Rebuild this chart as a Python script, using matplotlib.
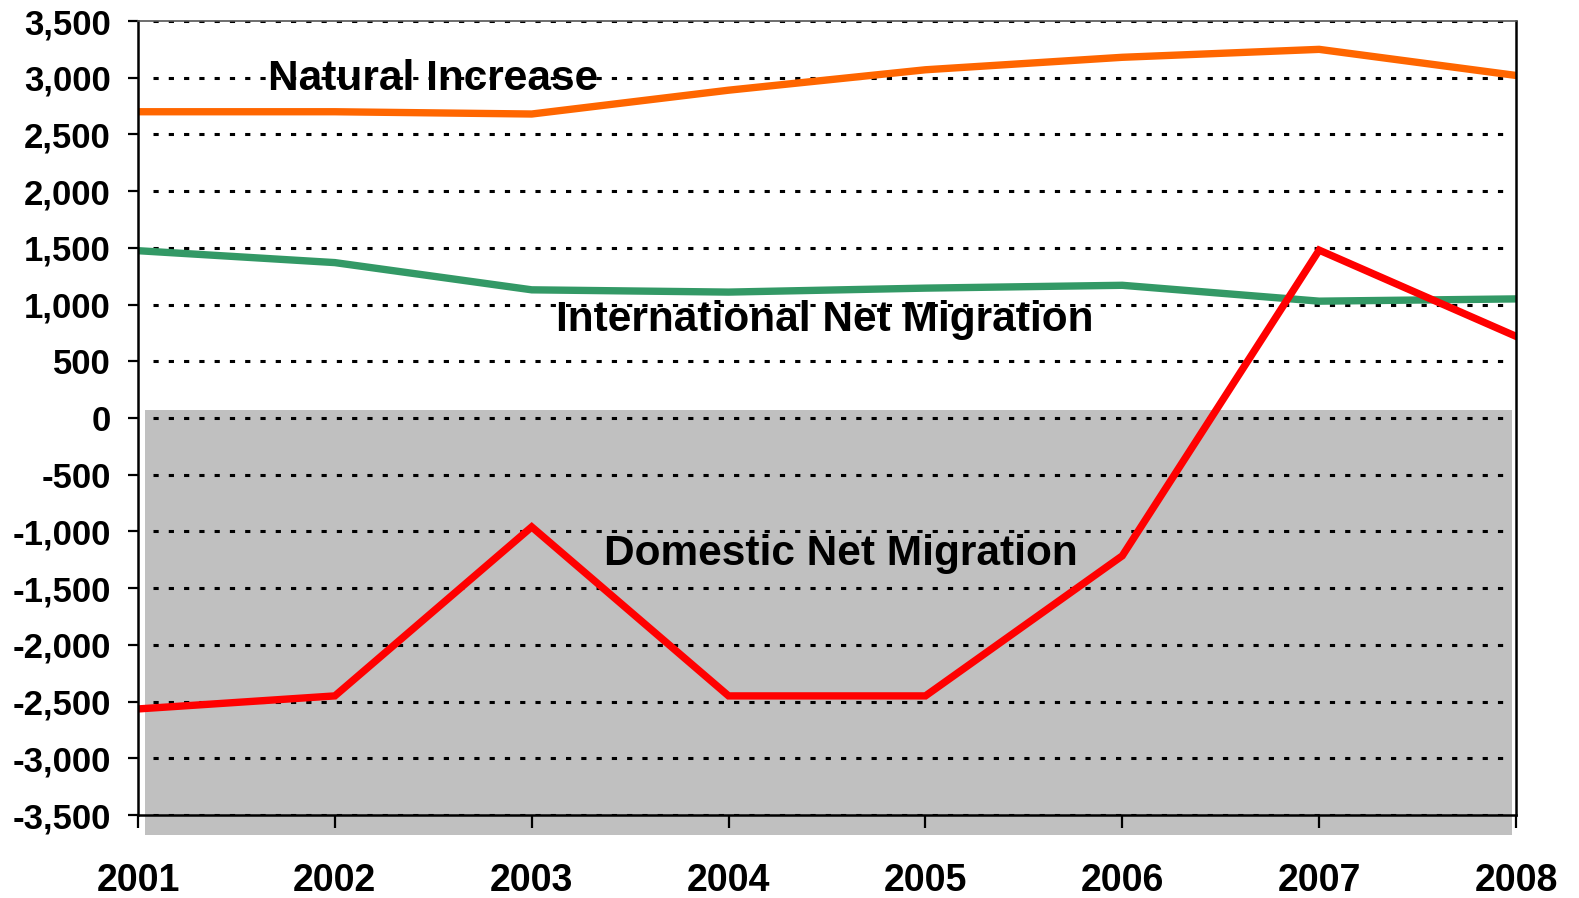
import matplotlib.pyplot as plt
from matplotlib.patches import Rectangle

years = [2001, 2002, 2003, 2004, 2005, 2006, 2007, 2008]
natural_increase = [2700, 2700, 2680, 2890, 3070, 3180, 3250, 3020]
international_net = [1475, 1370, 1130, 1110, 1145, 1170, 1030, 1050]
domestic_net = [-2565, -2450, -960, -2450, -2450, -1215, 1480, 720]
y_ticks = list(range(-3500, 3501, 500))

plt.rcParams['font.family'] = ['Liberation Sans', 'DejaVu Sans']
plt.rcParams['font.weight'] = 'bold'

fig = plt.figure(figsize=(15.79, 8.98), dpi=100)
ax = fig.add_axes([138 / 1579, 83 / 898, (1516 - 138) / 1579, (815 - 21) / 898])

ax.set_xlim(2001, 2008)
ax.set_ylim(-3500, 3500)

# grey box behind the negative region
ax.add_patch(Rectangle((2001.035, -3680), 6.945, 3750, facecolor='#c0c0c0',
                       edgecolor='none', zorder=0, clip_on=False))

# dotted gridlines
ax.hlines(y_ticks, 2001.075, 2007.96, colors='black', linewidth=2.2,
          linestyles=(0, (1.7, 3.3)), zorder=1)

ax.plot(years, natural_increase, color='#ff6600', linewidth=5.3, zorder=3,
        solid_joinstyle='miter')
ax.plot(years, international_net, color='#339966', linewidth=5.3, zorder=3,
        solid_joinstyle='miter')
ax.plot(years, domestic_net, color='#ff0000', linewidth=5.3, zorder=4,
        solid_joinstyle='miter')

ax.text(2002.5, 2985, 'Natural Increase', fontsize=30.5, fontweight='bold',
        ha='center', va='center', zorder=5)
ax.text(2004.49, 865, 'International Net Migration', fontsize=30.5, fontweight='bold',
        ha='center', va='center', zorder=5)
ax.text(2004.57, -1200, 'Domestic Net Migration', fontsize=30.5, fontweight='bold',
        ha='center', va='center', zorder=5)

ax.set_yticks(y_ticks)
ax.set_yticklabels([f'{v:,}' for v in y_ticks], fontsize=25, fontweight='bold')
ax.set_xticks(years)
ax.set_xticklabels([str(y) for y in years], fontsize=27, fontweight='bold')

ax.tick_params(axis='y', direction='out', length=7.5, width=1.6, pad=12)
ax.tick_params(axis='x', direction='out', length=9.5, width=1.6, pad=25)

for side in ['left', 'bottom', 'right', 'top']:
    ax.spines[side].set_linewidth(1.8)
    ax.spines[side].set_zorder(6)
ax.spines['top'].set_color('#555555')
ax.spines['top'].set_linewidth(1.2)

ax.set_facecolor('none')

fig.savefig('out.png', dpi=100)
